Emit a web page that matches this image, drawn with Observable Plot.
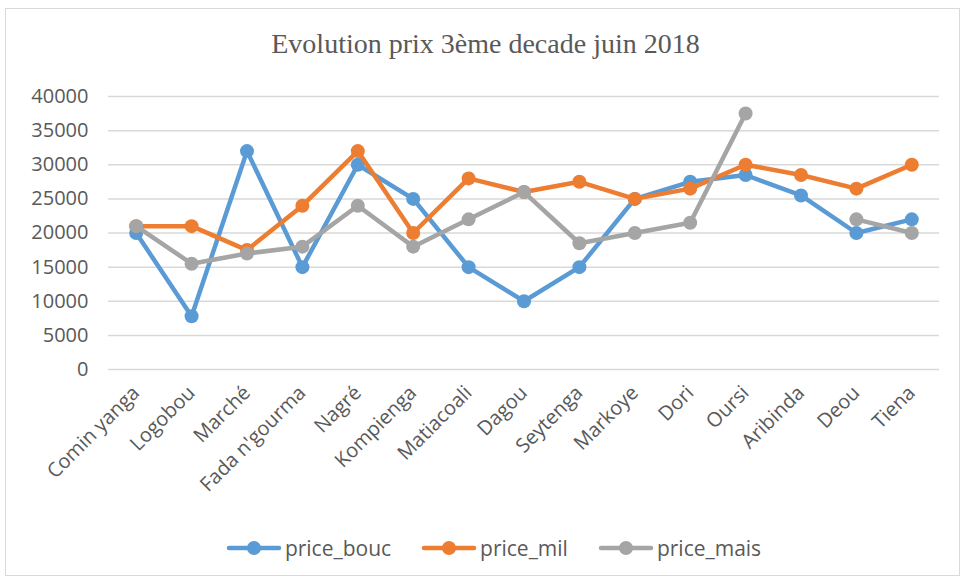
<!DOCTYPE html>
<html>
<head>
<meta charset="utf-8">
<script src="https://cdn.jsdelivr.net/npm/d3@7"></script>
<script src="https://cdn.jsdelivr.net/npm/@observablehq/plot@0.6"></script>
<style>
  html, body { margin: 0; padding: 0; background: #fff; }
  #wrap { position: relative; width: 962px; height: 582px; overflow: hidden; }
  #frame { position: absolute; left: 5px; top: 8px; width: 955px; height: 568px; border: 1px solid #d9d9d9; box-sizing: border-box; }
  #title { position: absolute; left: 8px; width: 955px; top: 28px; text-align: center; font-family: "Liberation Serif", serif; font-size: 28px; color: #595959; }
  #chart { position: absolute; left: 0; top: 60px; }
  #legend { position: absolute; left: 16px; width: 955px; top: 534px; display: flex; justify-content: center; gap: 30px; font-family: "Open Sans", sans-serif; font-size: 21px; color: #595959; }
  .item { display: flex; align-items: center; }
  .item svg { margin-right: 3px; }
</style>
</head>
<body>
<div id="wrap">
  <div id="frame"></div>
  <div id="title">Evolution prix 3ème decade juin 2018</div>
  <div id="chart"></div>
  <div id="legend"></div>
</div>
<script>
const markets = ["Comin yanga","Logobou","Marché","Fada n'gourma","Nagré","Kompienga","Matiacoali","Dagou","Seytenga","Markoye","Dori","Oursi","Aribinda","Deou","Tiena"];
const priceBouc = [20000, 7800, 32000, 15000, 30000, 25000, 15000, 10000, 15000, 25000, 27500, 28500, 25500, 20000, 22000];
const priceMil  = [21000, 21000, 17500, 24000, 32000, 20000, 28000, 26000, 27500, 25000, 26500, 30000, 28500, 26500, 30000];
const priceMais = [21000, 15500, 17000, 18000, 24000, 18000, 22000, 26000, 18500, 20000, 21500, 37500, null, 22000, 20000];
const seriesNames = ["price_bouc", "price_mil", "price_mais"];
const seriesColors = ["#5B9BD5", "#ED7D31", "#A5A5A5"];
const yTicks = [0, 5000, 10000, 15000, 20000, 25000, 30000, 35000, 40000];

const seriesValues = [priceBouc, priceMil, priceMais];
const tables = seriesValues.map((vals, s) => markets.map((m, i) => ({market: m, value: vals[i], series: seriesNames[s]})));

const marks = [Plot.ruleY(yTicks, {stroke: "#d9d9d9", strokeWidth: 1.5})];
tables.forEach((t, s) => {
  marks.push(Plot.line(t, {x: "market", y: "value", stroke: seriesColors[s], strokeWidth: 4.5, strokeLinejoin: "round", strokeLinecap: "round"}));
  marks.push(Plot.dot(t.filter(d => d.value != null), {x: "market", y: "value", fill: seriesColors[s], r: 7, stroke: "none"}));
});

const chart = Plot.plot({
  width: 962,
  height: 450,
  marginLeft: 108,
  marginRight: 23,
  marginTop: 36,
  marginBottom: 141,
  style: {fontFamily: "Open Sans, sans-serif", fontSize: "20px", color: "#595959", background: "transparent"},
  x: {type: "point", domain: markets, padding: 0.5, round: false, label: null, tickSize: 0, tickPadding: 20, tickRotate: -45},
  y: {domain: [0, 40000], ticks: yTicks, tickFormat: d => String(d), label: null, tickSize: 0, tickPadding: 20},
  marks
});
document.getElementById("chart").appendChild(chart);

const legend = document.getElementById("legend");
seriesNames.forEach((n, i) => {
  const item = document.createElement("div");
  item.className = "item";
  item.innerHTML = `<svg width="56" height="16"><line x1="3" y1="8" x2="53" y2="8" stroke="${seriesColors[i]}" stroke-width="4.5" stroke-linecap="round"/><circle cx="28" cy="8" r="7" fill="${seriesColors[i]}"/></svg><span>${n}</span>`;
  legend.appendChild(item);
});
</script>
</body>
</html>
